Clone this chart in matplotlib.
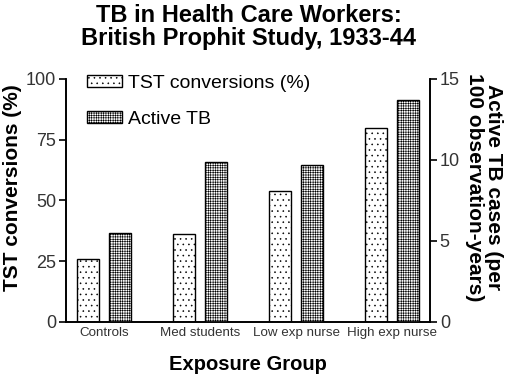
import matplotlib.pyplot as plt
import numpy as np

plt.rcParams['font.family'] = ['Liberation Sans', 'DejaVu Sans']
plt.rcParams['hatch.linewidth'] = 0.4

groups = ['Controls', 'Med students', 'Low exp nurse', 'High exp nurse']
tst_conv = [26, 36, 54, 80]          # percent, left axis
active_tb = [5.5, 9.9, 9.7, 13.7]    # per 100 observation-years, right axis

x = np.arange(len(groups))
w = 0.23

fig = plt.figure(figsize=(5.12, 3.76), dpi=100)
ax = fig.add_axes([0.129, 0.144, 0.711, 0.646])
ax2 = ax.twinx()

ax.bar(x - 0.17, tst_conv, w, color='white', edgecolor='black', hatch='...',
       linewidth=1.0, label='TST conversions (%)')
ax2.bar(x + 0.17, active_tb, w, color='white', edgecolor='black', hatch='+++++++',
        linewidth=1.0, label='Active TB')

ax.set_xlim(-0.396, 3.396)
ax.set_ylim(0, 100)
ax2.set_ylim(0, 15)
ax.set_yticks([0, 25, 50, 75, 100])
ax2.set_yticks([0, 5, 10, 15])
ax.set_xticks(x)
ax.set_xticklabels(groups, fontsize=9.6, color='#333333')
ax.tick_params(axis='x', length=0, pad=4)
ax.tick_params(axis='y', labelsize=13, length=5, width=1.2, labelcolor='#333333', pad=2)
ax2.tick_params(axis='y', labelsize=13, length=5, width=1.2, labelcolor='#333333', pad=2)

for a in (ax, ax2):
    a.spines['top'].set_visible(False)
    for s in ('left', 'right', 'bottom'):
        a.spines[s].set_linewidth(1.2)

ax.set_ylabel('TST conversions (%)', fontsize=15, fontweight='bold', va='center')
ax.yaxis.set_label_coords(-0.146, 0.553)
ax2.set_ylabel('Active TB cases (per\n100 observation-years)', fontsize=15,
               fontweight='bold', rotation=270, linespacing=0.95, va='center')
ax2.yaxis.set_label_coords(1.148, 0.553)
ax.set_xlabel('Exposure Group', fontsize=14.5, fontweight='bold', labelpad=11.5)

fig.suptitle('TB in Health Care Workers:\nBritish Prophit Study, 1933-44',
             fontsize=17, fontweight='bold', y=0.99, x=0.486, linespacing=1.0)

h1, l1 = ax.get_legend_handles_labels()
h2, l2 = ax2.get_legend_handles_labels()
ax2.legend(h1 + h2, l1 + l2, loc='upper left', frameon=False, fontsize=14,
           handlelength=1.8, handleheight=0.55, handletextpad=0.3,
           labelspacing=1.0, borderaxespad=0.0, bbox_to_anchor=(0.036, 1.05))

fig.savefig('out.png', dpi=100)
